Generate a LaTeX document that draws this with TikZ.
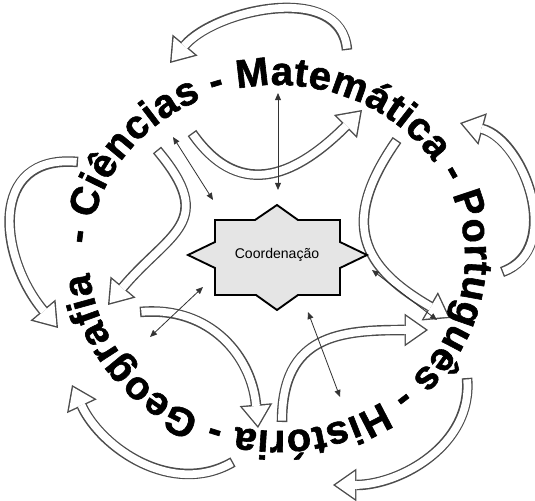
\documentclass[tikz,border=0pt]{standalone}
\usepackage{fontspec}
\setmainfont{Liberation Sans}
\newfontfamily\ringfont{Liberation Sans}[BoldFeatures={FakeBold=1.5}]
\usepackage{tikz}
\usetikzlibrary{arrows.meta,decorations.text}
\tikzset{
  hollowarr/.style={draw=black!70,line width=9pt,
    -{Triangle[length=20pt,width=28pt,line width=0pt]},
    postaction={draw=white,line width=6.6pt,shorten <=1.2pt,shorten >=2.1pt,
      -{Triangle[length=16.7pt,width=23.4pt,line width=0pt]}}},
  darr/.style={{Triangle[length=6pt,width=5pt]}-{Triangle[length=6pt,width=5pt]},
    line width=0.7pt,black!80},
  starbox/.style={draw,line width=1.6pt,fill=gray!20},
  ringtxt/.style={decorate,decoration={text along path,text align={fit to path},
    text={|\ringfont\bfseries\fontsize{34}{34}\selectfont|- Ciências - Matemática - Português - História - Geografia}}},
}

\begin{document}
\begin{tikzpicture}[x=0.03cm,y=0.03cm]
  \useasboundingbox (0,0) rectangle (535,500);

  \coordinate (o1s) at (347,450);  \coordinate (o1e) at (170,437);
  \coordinate (o2s) at (502,228);  \coordinate (o2e) at (460,377);
  \coordinate (o3s) at (467,122);  \coordinate (o3e) at (333,15);
  \coordinate (o4s) at (233,38);   \coordinate (o4e) at (72,115);
  \coordinate (o5s) at (78,338);   \coordinate (o5e) at (58,172);
  \coordinate (i1s) at (192,367);  \coordinate (i1e) at (362,390);
  \coordinate (i2s) at (397,360);  \coordinate (i2e) at (450,182);
  \coordinate (i3s) at (282,78);   \coordinate (i3e) at (428,170);
  \coordinate (i4s) at (140,188);  \coordinate (i4e) at (258,72);
  \coordinate (i5s) at (157,350);  \coordinate (i5e) at (108,195);

  \draw[hollowarr] (o1s) to[out=95,in=50] (o1e);
  \draw[hollowarr] (o2s) to[out=20,in=-15,looseness=1.1] (o2e);
  \draw[hollowarr] (o3s) to[out=-85,in=0] (o3e);
  \draw[hollowarr] (o4s) to[out=-150,in=-65] (o4e);
  \draw[hollowarr] (o5s) to[out=175,in=130,looseness=1.4] (o5e);
  \draw[hollowarr] (i1s) to[out=-55,in=225,looseness=1.3] (i1e);
  \draw[hollowarr] (i2s) to[out=235,in=150,looseness=1.4] (i2e);
  \draw[hollowarr] (i3s) to[out=90,in=180,looseness=1.3] (i3e);
  \draw[hollowarr] (i4s) to[out=5,in=95,looseness=1.1] (i4e);
  \draw[hollowarr] (i5s) to[out=-50,in=50,looseness=1.5] (i5e);

  \draw[starbox] (215,280) -- (255,280) -- (277,295) -- (298,280) -- (340,280)
    -- (340,258) -- (367,245) -- (340,232) -- (340,205) -- (298,205) -- (277,190)
    -- (256,205) -- (215,205) -- (215,232) -- (188,245) -- (215,258) -- cycle;
  \node[font=\fontsize{12}{12}\selectfont] (coord) at (277,245) {Coordenação};

  \coordinate (u1) at (278,407);  \coordinate (u2) at (278,310);
  \coordinate (ul1) at (173,363); \coordinate (ul2) at (213,300);
  \coordinate (ll1) at (150,163); \coordinate (ll2) at (203,213);
  \coordinate (lo1) at (308,188); \coordinate (lo2) at (340,103);
  \coordinate (lr1) at (372,230); \coordinate (lr2) at (437,180);
  \draw[darr] (u1) -- (u2);
  \draw[darr] (ul1) -- (ul2);
  \draw[darr] (ll1) -- (ll2);
  \draw[darr] (lo1) -- (lo2);
  \draw[darr] (lr1) -- (lr2);

  \path[ringtxt] (277,242) ++(175.5:188 and 173)
    arc[start angle=175.5,end angle=-175,x radius=188,y radius=173];
\end{tikzpicture}
\end{document}
